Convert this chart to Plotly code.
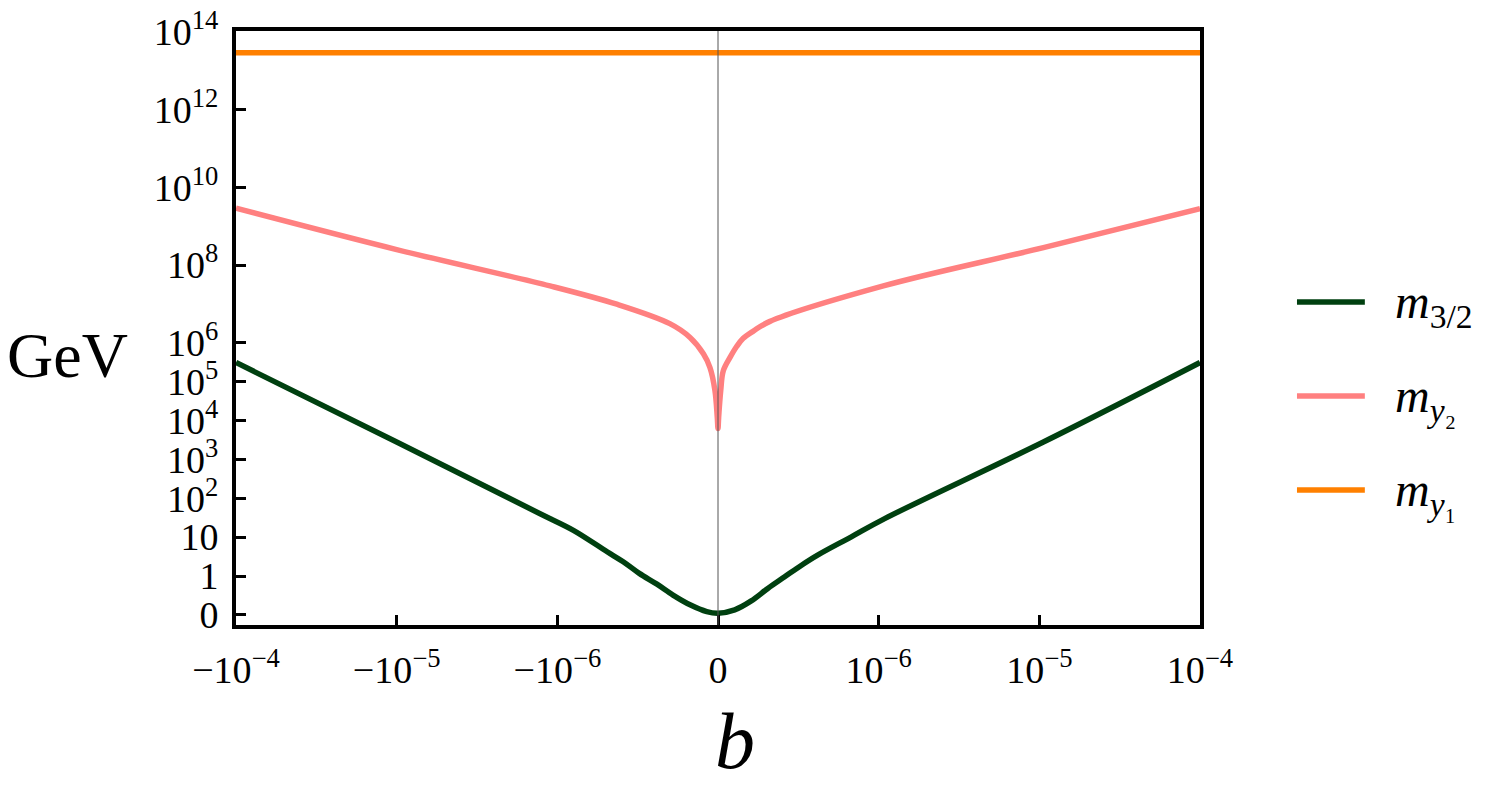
import numpy as np
import plotly.graph_objects as go

# values (b, mass in GeV)
b_m32 = [-1e-4, -1e-5, -1.28e-6, -9.0e-7, -6.9e-7, -5.9e-7, -4.9e-7, -3.8e-7,
         -2.8e-7, -1.74e-7, -7.0e-8, 0.0, 1.04e-7, 2.07e-7, 3.1e-7, 4.15e-7,
         5.2e-7, 6.2e-7, 8.3e-7, 1.09e-6, 1.06e-5, 1e-4]
m_m32 = [3.1e5, 2.8e3, 40, 15, 4.2, 2.33, 1.17, 0.79,
         0.51, 0.26, 0.085, 0.044, 0.13, 0.36, 0.68, 0.98,
         1.9, 3.45, 10.2, 30, 2.8e3, 3.1e5]

b_my2 = [-1e-4, -1e-5, -1.11e-6, -6.3e-7, -3.0e-7, -1.74e-7, -9.1e-8,
         -5.0e-8, -1.9e-8, -4.4e-9, 0.0, 4.0e-9, 1.7e-8, 3.3e-8, 7.5e-8, 1.16e-7,
         1.57e-7, 2.2e-7, 3.2e-7, 1.07e-6, 1.06e-5, 1e-4]
m_my2 = [2.9e9, 2.5e8, 2.9e7, 9.8e6, 3.1e6, 1.37e6, 5.2e5,
         2.3e5, 5.9e4, 1.2e4, 6.2e3, 1.2e4, 5.9e4, 1.9e5, 4.2e5, 8.0e5,
         1.3e6, 2.0e6, 3.5e6, 2.9e7, 2.8e8, 2.83e9]

b_my1 = [-1e-4, 1e-4]
m_my1 = [2.9e13, 2.9e13]

x_tickvals = [-1e-4, -1e-5, -1e-6, 0, 1e-6, 1e-5, 1e-4]
x_ticktext = ["\u221210<sup>\u22124</sup>", "\u221210<sup>\u22125</sup>",
              "\u221210<sup>\u22126</sup>", "0", "10<sup>\u22126</sup>",
              "10<sup>\u22125</sup>", "10<sup>\u22124</sup>"]
y_tickvals = [0, 1, 10, 1e2, 1e3, 1e4, 1e5, 1e6, 1e8, 1e10, 1e12, 1e14]
y_ticktext = ["0", "1", "10", "10<sup>2</sup>", "10<sup>3</sup>", "10<sup>4</sup>",
              "10<sup>5</sup>", "10<sup>6</sup>", "10<sup>8</sup>", "10<sup>10</sup>",
              "10<sup>12</sup>", "10<sup>14</sup>"]

GREEN = "#004010"
PINK = "#ff8080"
ORANGE = "#ff8000"
FONT = "Liberation Serif"

LIN_X = 1e-6


def sx(b):
    """Symmetric log scale for b, linear inside |b| < 1e-6."""
    b = np.asarray(b, dtype=float)
    a = np.abs(b) / LIN_X
    t = np.where(a >= 1, np.log10(np.maximum(a, 1e-30)) + 1, a)
    return np.sign(b) * t


def sy(m):
    """Log scale for masses, linear below 1."""
    m = np.asarray(m, dtype=float)
    return np.where(m >= 1, np.log10(np.maximum(m, 1e-30)) + 1, m)


fig = go.Figure()

series = [
    (b_my1, m_my1, ORANGE, "linear"),
    (b_my2, m_my2, PINK, "spline"),
    (b_m32, m_m32, GREEN, "spline"),
]
for bx, my, color, shape in series:
    fig.add_trace(
        go.Scatter(
            x=sx(bx),
            y=sy(my),
            mode="lines",
            line=dict(color=color, width=5.5, shape=shape, smoothing=1.0),
            showlegend=False,
            hoverinfo="skip",
        )
    )

# thin vertical axis at b = 0
fig.add_shape(type="line", x0=0, x1=0, xref="x", y0=0, y1=1, yref="paper",
              line=dict(color="#555555", width=1), layer="above")

# legend drawn by hand so the samples are long like the original
legend_items = [
    (GREEN, "<i>m</i><sub>3/2</sub>", 0.5438),
    (PINK, "<i>m</i><sub><i>y</i>\u2082</sub>", 0.3855),
    (ORANGE, "<i>m</i><sub><i>y</i>\u2081</sub>", 0.2273),
]
for color, label, yp in legend_items:
    fig.add_shape(type="line", xref="paper", yref="paper", x0=1.1006, x1=1.171,
                  y0=yp, y1=yp, line=dict(color=color, width=5.5))
    fig.add_annotation(xref="paper", yref="paper", x=1.2, y=yp - 0.005,
                       text=label, showarrow=False, xanchor="left", yanchor="middle",
                       font=dict(family=FONT, size=48, color="black"))

fig.add_annotation(xref="paper", yref="paper", x=-0.1743, y=0.4545, text="GeV",
                   showarrow=False, xanchor="center", yanchor="middle",
                   font=dict(family=FONT, size=64, color="black"))
fig.add_annotation(xref="paper", yref="paper", x=0.5176, y=-0.195, text="<i>b</i>",
                   showarrow=False, xanchor="center", yanchor="middle",
                   font=dict(family=FONT, size=80, color="black"))

axis_common = dict(
    showline=True, mirror=True, linewidth=4, linecolor="black",
    ticks="inside", ticklen=10, tickwidth=3, tickcolor="black",
    showgrid=False, zeroline=False, automargin=False,
    ticklabeloverflow="allow",
    tickfont=dict(family=FONT, size=38, color="black"),
)

fig.update_xaxes(range=[-3, 3], tickmode="array", tickvals=sx(x_tickvals),
                 ticktext=x_ticktext, ticklabelstandoff=8, **axis_common)
fig.update_yaxes(range=[-0.26, 15.02], tickmode="array", tickvals=sy(y_tickvals),
                 ticktext=y_ticktext, ticklabelstandoff=6, **axis_common)

# the page body adds 8px around the figure, so the figure is 8px smaller
fig.update_layout(
    width=1482,
    height=777,
    autosize=False,
    margin=dict(l=228, r=290, t=23, b=160, autoexpand=False),
    plot_bgcolor="white",
    paper_bgcolor="white",
    font=dict(family=FONT, color="black"),
)

fig.write_html("out.html")
